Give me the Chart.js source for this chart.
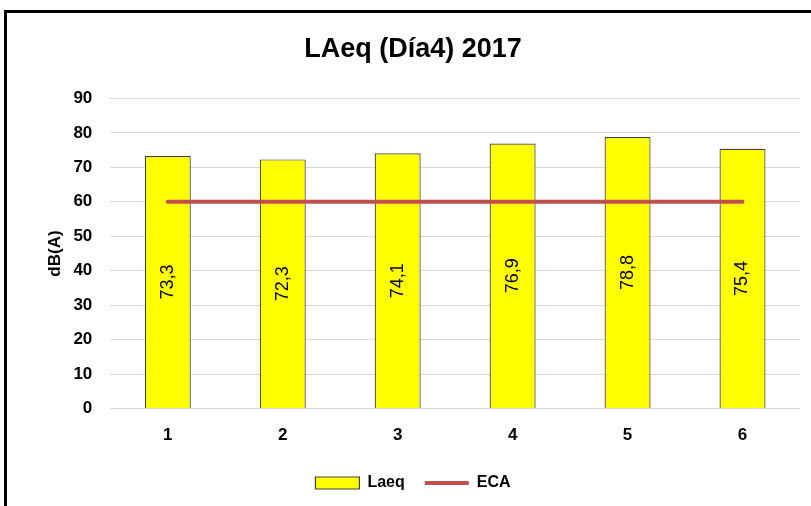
<!DOCTYPE html>
<html>
<head>
<meta charset="utf-8">
<script src="https://cdn.jsdelivr.net/npm/chart.js@4"></script>
<style>
  body { margin: 0; overflow: hidden; background: #fff; }
  #frame {
    position: absolute; left: 4px; top: 10px;
    width: 900px; height: 600px;
    border: 3px solid #000; background: #fff;
  }
  #box { position: absolute; left: 0; top: 0; width: 816px; height: 493px; }
</style>
</head>
<body>
<div id="frame"><div id="box"><canvas id="canvas"></canvas></div></div>
<script>
// datos
const categorias = ["1", "2", "3", "4", "5", "6"];
const laeq = [73.3, 72.3, 74.1, 76.9, 78.8, 75.4];
const eca = [60, 60, 60, 60, 60, 60];
const titulo = "LAeq (Día4) 2017";

const FONT = "'Liberation Sans', Arial, sans-serif";

// etiquetas verticales dentro de cada barra
const etiquetas = {
    id: "etiquetas",
    afterDatasetsDraw(chart) {
        const ctx = chart.ctx;
        const meta = chart.getDatasetMeta(0);
        ctx.save();
        ctx.fillStyle = "#000";
        ctx.font = "18px " + FONT;
        ctx.textAlign = "center";
        ctx.textBaseline = "middle";
        meta.data.forEach(function (bar, i) {
            ctx.save();
            ctx.translate(bar.x, (bar.y + bar.base) / 2);
            ctx.rotate(-Math.PI / 2);
            ctx.fillText(laeq[i].toFixed(1).replace(".", ","), 0, 0);
            ctx.restore();
        });
        ctx.restore();
    }
};

let c = document.getElementById("canvas");
new Chart(c, {
    type: "bar",
    data: {
        labels: categorias,
        datasets: [{
            label: "Laeq",
            data: laeq,
            backgroundColor: "#FFFF00",
            borderColor: "#404040",
            borderWidth: 1.2,
            categoryPercentage: 1,
            barPercentage: 0.4,
            pointStyle: "rect",
            order: 1
        }, {
            type: "line",
            label: "ECA",
            data: eca,
            borderColor: "#C0504D",
            backgroundColor: "#C0504D",
            borderWidth: 4,
            borderCapStyle: "round",
            pointRadius: 0,
            pointStyle: "line",
            order: 0
        }]
    },
    options: {
        responsive: true,
        maintainAspectRatio: false,
        animation: false,
        layout: { padding: { left: 19, right: 23, top: 8, bottom: 5 } },
        plugins: {
            title: {
                display: true,
                text: titulo,
                color: "#000",
                font: { family: FONT, size: 27, weight: "bold" },
                padding: { top: 12, bottom: 33 }
            },
            legend: {
                position: "bottom",
                labels: {
                    color: "#000",
                    font: { family: FONT, size: 16, weight: "bold" },
                    usePointStyle: true,
                    pointStyleWidth: 44,
                    boxHeight: 12,
                    padding: 20,
                    sort: (a, b) => a.datasetIndex - b.datasetIndex
                }
            },
            tooltip: { enabled: false }
        },
        scales: {
            x: {
                grid: { display: false },
                border: { display: false },
                ticks: {
                    color: "#000",
                    padding: 9,
                    font: { family: FONT, size: 17, weight: "bold" }
                }
            },
            y: {
                min: 0,
                max: 90,
                ticks: {
                    stepSize: 10,
                    color: "#000",
                    padding: 18,
                    font: { family: FONT, size: 17, weight: "bold" }
                },
                grid: { color: "#D9D9D9", drawTicks: false },
                border: { display: false },
                title: {
                    display: true,
                    text: "dB(A)",
                    color: "#000",
                    padding: { top: 19, bottom: -10 },
                    font: { family: FONT, size: 17, weight: "bold" }
                }
            }
        }
    },
    plugins: [etiquetas]
});
</script>
</body>
</html>
